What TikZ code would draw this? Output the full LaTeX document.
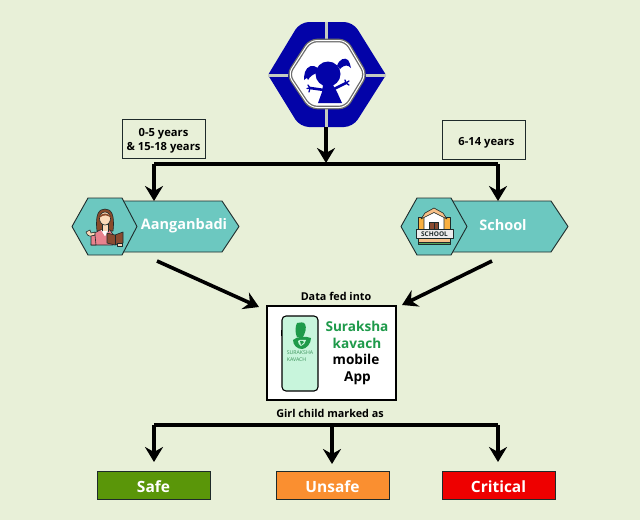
\documentclass[tikz,border=0pt]{standalone}
\usepackage{fontspec}
\setmainfont{Open Sans}[BoldFont={Open Sans Bold}]
\usetikzlibrary{arrows.meta}
\definecolor{bgc}{HTML}{E8F0D8}
\definecolor{blu}{HTML}{0303A8}
\definecolor{gapc}{HTML}{C4CBC0}
\definecolor{teal}{HTML}{6CC8C0}
\definecolor{dark}{HTML}{1E2A2A}
\definecolor{appg}{HTML}{1E9A4A}
\definecolor{phone}{HTML}{C8F5DC}
\definecolor{skin}{HTML}{FBD9B8}
\definecolor{hairc}{HTML}{8A4A2A}
\definecolor{pinkc}{HTML}{E8828E}
\definecolor{bookc}{HTML}{8A4B30}
\definecolor{wing}{HTML}{F9B040}
\definecolor{roof}{HTML}{F8C088}
\definecolor{safec}{HTML}{5A9609}
\definecolor{unsafec}{HTML}{FA8F30}
\definecolor{critc}{HTML}{EE0000}
\newcommand{\dropby}[2]{\raisebox{-#1}[\height][\depth]{#2}}
\tikzset{
  every node/.style={font=\bfseries},
  flow/.style={line width=3.6pt,-{Stealth[length=15pt,width=18pt,inset=5pt]}},
  thick line/.style={line width=3.4pt},
  agebox/.style={draw=dark,line width=.9pt,fill=bgc,minimum width=83pt,minimum height=39pt,inner sep=0pt,align=center,font=\bfseries\fontsize{11.2}{14}\selectfont},
  hexa/.style={draw=dark,line width=.9pt,fill=teal,line join=round},
  tag/.style={text=white,font=\bfseries\fontsize{14.5}{16}\selectfont},
  status/.style={draw=dark,line width=.8pt,minimum width=113pt,minimum height=28pt,inner sep=0pt,text=white,font=\bfseries\fontsize{15.5}{17}\selectfont},
  capt/.style={font=\bfseries\fontsize{10.8}{12}\selectfont},
  icon/.style={draw=dark,line width=.6pt,line join=round},
}
\begin{document}
\begin{tikzpicture}[x=1pt,y=-1pt]
\useasboundingbox[fill=bgc] (0,0) rectangle (640,520);

% top emblem
\fill[blu] (268,75) [rounded corners=9pt] -- (300,22) -- (353,22) [sharp corners] -- (386,75) [rounded corners=9pt] -- (353,127) -- (300,127) [sharp corners] -- cycle;
\fill[gapc] (324.5,22) rectangle (328,40);
\fill[gapc] (324.5,108) rectangle (328,127);
\fill[gapc] (268,73.5) rectangle (288,76.5);
\fill[gapc] (366,73.5) rectangle (386,76.5);
\draw[draw=gray!85!black,line width=3.6pt,fill=white,rounded corners=7pt] (310,40.5) -- (346,40.5) -- (366,74.5) -- (346,107.5) -- (310,107.5) -- (288,74.5) -- cycle;
\draw[draw=white,line width=1pt,rounded corners=7pt] (310,40.5) -- (346,40.5) -- (366,74.5) -- (346,107.5) -- (310,107.5) -- (288,74.5) -- cycle;
\fill[blu] (328,74) circle (12.5);
\fill[blu] (337,66) .. controls (339,59) and (345,57) .. (348,60) .. controls (350,62) and (350,65) .. (351,68) .. controls (348,65) and (345,64) .. (340,69) -- cycle;
\fill[blu] (318,68) .. controls (313,64) and (307,66) .. (305,72) .. controls (304,75) and (304,78) .. (304,80) .. controls (306,78) and (307,77) .. (308,80) .. controls (310,76) and (314,74) .. (317,73) -- cycle;
\fill[blu] (323,85) -- (333,85) -- (337,92) -- (342,103) -- (318,103) -- (322,92) -- cycle;
\draw[blu,line width=2.6pt,line cap=round] (324,90) -- (310,88);
\draw[blu,line width=2.6pt,line cap=round] (332,90) -- (346,83);
\draw[blu,line width=1.3pt,line cap=round] (310,88) -- (308,85) (310,88) -- (307,88.5) (310,88) -- (309,92);
\draw[blu,line width=1.3pt,line cap=round] (346,83) -- (345,80) (346,83) -- (349,81) (346,83) -- (349,85);

% named anchor points
\coordinate (emblem) at (326,127);
\coordinate (split) at (326,163);
\coordinate (leftturn) at (154,164);
\coordinate (rightturn) at (498,164);
\coordinate (aangtop) at (154,201);
\coordinate (schooltop) at (498,201);
\coordinate (aangout) at (157,261);
\coordinate (schoolout) at (492,261);
\coordinate (appinl) at (259,307);
\coordinate (appinr) at (402,305);
\coordinate (busleft) at (154,425);
\coordinate (busright) at (498,425);
\coordinate (busmid) at (332,425);

% age boxes
\node[agebox] (agea) at (163.5,138.5) {\dropby{2pt}{0-5 years}\\\dropby{2pt}{\& 15-18 years}};
\node[agebox] (ageb) at (484,140) {\hspace*{5pt}\dropby{3pt}{6-14 years}};

% Aanganbadi tag
\draw[hexa] (115,201) -- (222,201) -- (239,226.5) -- (222,252) -- (115,252) -- cycle;
\draw[hexa] (88,198) -- (122,198) -- (137,226.5) -- (122,255) -- (88,255) -- (72,226.5) -- cycle;
\node[tag] (aang) at (184,226) {Aanganbadi};
% woman icon
\draw[icon,fill=hairc] (97,231) .. controls (95,214) and (99,209) .. (105,209) .. controls (111,209) and (115,214) .. (113,231) -- cycle;
\draw[icon,fill=pinkc] (91,245) -- (93,234) -- (100,230) -- (110,230) -- (114,236) -- (113,245) -- cycle;
\fill[white] (101,230) -- (105,236) -- (109,230) -- cycle;
\draw[icon,fill=skin] (102,224) rectangle (108,231);
\fill[white] (102,231) -- (105,236) -- (108,231) -- cycle;
\draw[icon,fill=skin] (105,218.5) ellipse (5.5 and 6.5);
\fill[hairc] (99,218) .. controls (100,212) and (110,212) .. (111,218) .. controls (108,215) and (104,214) .. (99,218) -- cycle;
\draw[icon,fill=skin] (86,232) .. controls (87,237) and (92,237) .. (95,235) -- (95,232) -- (91,233) -- (90,230) -- cycle;
\draw[icon,fill=pinkc] (91,236) -- (95,235) -- (96,245) -- (91,245) -- cycle;
\draw[icon,fill=bookc] (107,233) -- (115,235) -- (123,232) -- (123,243) -- (115,245) -- (107,243) -- cycle;
\draw[icon] (115,235) -- (115,245);
\draw[icon,fill=skin] (117,243) rectangle (122,246);

% School tag
\draw[hexa] (445,201) -- (551,201) -- (568,226.5) -- (551,252) -- (445,252) -- cycle;
\draw[hexa] (417,198) -- (451,198) -- (467,226.5) -- (451,255) -- (417,255) -- (401,226.5) -- cycle;
\node[tag] (school) at (503,225) {School};
% school icon
\draw[icon,fill=wing] (418,217) rectangle (450,230);
\draw[icon,fill=white] (424,230) -- (424,217) -- (434,212) -- (444,217) -- (444,230) -- cycle;
\draw[icon,fill=roof] (421,219) -- (425,213) -- (434,208) -- (443,213) -- (447,219) -- (434,212.5) -- cycle;
\draw[icon,fill=bookc] (429.5,222) rectangle (438.5,230);
\draw[icon] (434,222) -- (434,230);
\draw[icon,fill=gray!15] (416,229.5) rectangle (453,238.5);
\node[inner sep=0pt,font=\bfseries\fontsize{6.5}{7}\selectfont,text=dark] (schoolsign) at (434.5,234) {SCHOOL};
\draw[icon,fill=roof] (418,238.5) rectangle (450,242.5);
\draw[icon,fill=green!30!gray] (418,242.5) rectangle (450,244.5);

% app box
\node[capt] (fed) at (336,296) {Data fed into};
\node[draw=black,line width=1.3pt,fill=white,minimum width=129pt,minimum height=94pt,inner sep=0pt] (app) at (331.5,353) {};
\draw[black,line width=1.1pt,fill=phone,rounded corners=4pt] (282,316) rectangle (318,391);
\fill[black] (281,330) rectangle (282,336);
% app logo
\fill[appg] (297,323) .. controls (300,322) and (304,322) .. (305,324) .. controls (307,328) and (305,333) .. (303,337) -- (297,337) .. controls (295,333) and (295,327) .. (297,323) -- cycle;
\fill[appg] (293,340) .. controls (297,336) and (306,336) .. (311,338) .. controls (311,344) and (306,349) .. (302,349) .. controls (297,349) and (293,345) .. (293,340) -- cycle;
\fill[phone] (298,341) .. controls (300,339) and (304,340) .. (306,340) .. controls (306,343) and (303,345) .. (301,346) .. controls (299,345) and (298,343) .. (298,341) -- cycle;
\fill[appg] (300,341) .. controls (301,340) and (303,341) .. (304,342) .. controls (303,344) and (302,344) .. (301,345) -- cycle;
\node[inner sep=0pt,align=left,text=appg!70!gray,font=\mdseries\fontsize{5.2}{7}\selectfont] (brand) at (300,356.5) {SURAKSHA\\KAVACH};
\node[inner sep=0pt,align=center,text=appg,font=\bfseries\fontsize{13.6}{17}\selectfont] (app1) at (357,335) {Suraksha\\kavach};
\node[inner sep=0pt,align=center,text=black,font=\bfseries\fontsize{13.6}{17}\selectfont] (app2) at (356,369.5) {mobile\\\hspace*{3pt}App};
\node[capt] (marked) at (330,413) {Girl child marked as};

% status boxes
\node[status,fill=safec] (safe) at (153.5,485) {\dropby{1.5pt}{Safe}};
\node[status,fill=unsafec] (unsafe) at (332.5,485) {\dropby{1.5pt}{Unsafe}};
\node[status,fill=critc] (crit) at (498.5,485) {\dropby{1.5pt}{Critical}};

% connectors
\draw[thick line,line cap=square] (leftturn) -- (rightturn);
\draw[flow] (emblem) -- (split);
\draw[flow] (leftturn) -- (aangtop);
\draw[flow] (rightturn) -- (schooltop);
\draw[flow] (aangout) -- (appinl);
\draw[flow] (schoolout) -- (appinr);
\draw[thick line,line cap=square] (busleft) -- (busright);
\draw[flow] (busleft) -- ++(0,37) coordinate (tipa);
\draw[flow] (busmid) -- ++(0,39) coordinate (tipb);
\draw[flow] (busright) -- ++(0,37) coordinate (tipc);
\end{tikzpicture}
\end{document}
